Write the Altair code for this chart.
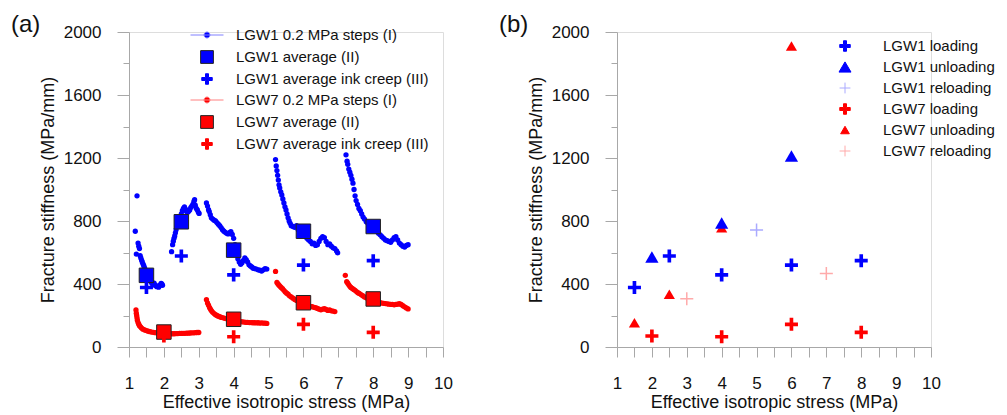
import altair as alt
import pandas as pd

FONT = "Liberation Sans"
GRAY = "#a8a8a8"
BLUE = "#0000ff"
RED = "#ff0000"
LBLUE = "#aaaaff"
LRED = "#ffaaaa"

# ---------------- panel (a) data ----------------
LGW1_STEPS_X = [1.23, 1.18, 1.26, 1.28, 1.30, 1.21, 1.32, 1.34, 1.36, 1.38, 1.40, 1.42, 1.44, 1.46, 1.48, 1.52,
                1.56, 1.60, 1.64, 1.68, 1.70, 1.72, 1.75, 1.78, 1.80, 1.82, 1.85, 1.88, 1.90, 1.92, 1.94, 1.96,
                2.22, 2.25, 2.27, 2.29, 2.31, 2.33, 2.35, 2.38, 2.41, 2.44, 2.47, 2.50, 2.53, 2.56, 2.59, 2.62,
                2.65, 2.68, 2.71, 2.74, 2.77, 2.80, 2.83, 2.86, 2.88, 2.90, 2.93, 2.96, 2.99, 3.01,
                3.22, 3.25, 3.28, 3.30, 3.33, 3.36, 3.40, 3.44, 3.48, 3.52, 3.56, 3.60, 3.64, 3.68, 3.72, 3.76,
                3.80, 3.84, 3.88, 3.92, 3.96, 4.00, 4.04, 4.08, 4.12, 4.16, 4.20, 4.24, 4.28, 4.32, 4.36, 4.40,
                4.44, 4.48, 4.52, 4.56, 4.60, 4.65, 4.70, 4.75, 4.80, 4.85, 4.90, 4.95,
                5.20, 5.22, 5.24, 5.26, 5.28, 5.30, 5.32, 5.35, 5.38, 5.41, 5.44, 5.47, 5.50, 5.53, 5.56, 5.59,
                5.62, 5.65, 5.70, 5.75, 5.80, 5.85, 5.90, 5.95, 6.00, 6.05, 6.10, 6.15, 6.20, 6.25, 6.30, 6.35,
                6.40, 6.45, 6.50, 6.55, 6.60, 6.65, 6.70, 6.75, 6.80, 6.85, 6.90, 6.95, 6.98,
                7.22, 7.25, 7.27, 7.30, 7.33, 7.36, 7.39, 7.42, 7.45, 7.48, 7.51, 7.55, 7.59, 7.63, 7.67, 7.71,
                7.75, 7.80, 7.85, 7.90, 7.95, 8.00, 8.05, 8.10, 8.15, 8.20, 8.25, 8.30, 8.35, 8.40, 8.45, 8.50,
                8.55, 8.60, 8.65, 8.70, 8.75, 8.80, 8.85, 8.90, 8.95, 9.00]
LGW1_STEPS_Y = [960, 735, 660, 640, 625, 590, 580, 565, 552, 540, 528, 518, 505, 495, 480, 455,
                440, 425, 410, 395, 400, 405, 392, 388, 383, 385, 380, 390, 395, 404, 400, 392,
                605, 650, 672, 690, 705, 725, 745, 765, 790, 810, 828, 845, 865, 880, 890, 875,
                860, 855, 862, 870, 885, 895, 905, 925, 935, 900, 880, 870, 855, 848,
                915, 895, 872, 860, 840, 820, 812, 805, 800, 790, 780, 770, 758, 745, 735, 728,
                722, 718, 726, 732, 715, 690, 650, 600, 560, 540, 525, 535, 550, 565, 555, 540,
                522, 515, 508, 500, 498, 495, 490, 488, 482, 490, 498, 495,
                1190, 1150, 1120, 1090, 1060, 1030, 1010, 985, 965, 940, 915, 890, 870, 845, 820, 800,
                785, 770, 765, 760, 770, 745, 760, 740, 730, 715, 690, 680, 670, 655, 660, 645,
                650, 670, 690, 700, 695, 670, 650, 655, 640, 630, 625, 610, 598,
                1220, 1180, 1160, 1130, 1110, 1090, 1065, 1040, 1000, 960, 930, 905, 880, 865, 845, 825,
                812, 795, 785, 775, 770, 760, 748, 735, 722, 712, 700, 690, 680, 675, 670, 665,
                680, 695, 700, 680, 660, 650, 640, 635, 645, 650]

LGW7_STEPS_X = [1.20, 1.21, 1.22, 1.23, 1.24, 1.26, 1.28, 1.30, 1.33, 1.36, 1.40, 1.45, 1.50, 1.55, 1.60, 1.65,
                1.70, 1.75, 1.80, 1.85, 1.90, 1.95, 2.00, 2.05, 2.10, 2.15, 2.20, 2.25, 2.30, 2.35, 2.40, 2.45,
                2.50, 2.55, 2.60, 2.65, 2.70, 2.75, 2.80, 2.85, 2.90, 2.95, 3.00,
                3.22, 3.25, 3.28, 3.31, 3.34, 3.37, 3.40, 3.44, 3.48, 3.52, 3.56, 3.60, 3.65, 3.70, 3.75, 3.80,
                3.85, 3.90, 3.95, 4.00, 4.05, 4.10, 4.15, 4.20, 4.25, 4.30, 4.35, 4.40, 4.45, 4.50, 4.55, 4.60,
                4.65, 4.70, 4.75, 4.80, 4.85, 4.90, 4.95,
                5.20, 5.24, 5.27, 5.30, 5.33, 5.36, 5.40, 5.44, 5.48, 5.52, 5.56, 5.60, 5.65, 5.70, 5.75, 5.80,
                5.85, 5.90, 5.95, 6.00, 6.05, 6.10, 6.15, 6.20, 6.25, 6.30, 6.35, 6.40, 6.45, 6.50, 6.55, 6.60,
                6.65, 6.70, 6.75, 6.80, 6.85, 6.90,
                7.20, 7.24, 7.27, 7.30, 7.33, 7.36, 7.40, 7.44, 7.48, 7.52, 7.56, 7.60, 7.65, 7.70, 7.75, 7.80,
                7.85, 7.90, 7.95, 8.00, 8.05, 8.10, 8.15, 8.20, 8.25, 8.30, 8.35, 8.40, 8.45, 8.50, 8.55, 8.60,
                8.65, 8.70, 8.75, 8.80, 8.85, 8.90, 8.95, 9.00]
LGW7_STEPS_Y = [235, 215, 200, 185, 170, 155, 145, 135, 128, 120, 113, 108, 104, 100, 97, 95,
                93, 91, 90, 88, 88, 87, 86, 86, 85, 85, 84, 84, 84, 85, 85, 86,
                86, 87, 87, 88, 88, 89, 90, 90, 91, 92, 92,
                300, 280, 265, 250, 238, 228, 220, 212, 205, 200, 196, 192, 188, 185, 182, 180,
                178, 176, 174, 172, 168, 165, 163, 161, 160, 158, 157, 156, 155, 155, 154, 154,
                153, 154, 152, 153, 152, 151, 150,
                480, 410, 400, 392, 385, 378, 370, 360, 350, 342, 335, 325, 318, 310, 302, 296,
                290, 285, 280, 276, 272, 268, 262, 258, 256, 252, 250, 245, 240, 236, 240, 244,
                238, 232, 235, 230, 228, 225,
                455, 415, 405, 395, 385, 378, 372, 365, 360, 352, 345, 340, 333, 326, 318, 312,
                306, 300, 296, 292, 290, 287, 284, 281, 279, 277, 276, 274, 272, 271, 270, 268,
                270, 272, 275, 270, 262, 255, 248, 242]

LGW1_AVG_X = [1.5, 2.5, 4, 6, 8]
LGW1_AVG_Y = [455, 795, 615, 735, 765]
LGW1_CREEP_X = [1.5, 2.5, 4, 6, 8]
LGW1_CREEP_Y = [378, 578, 458, 520, 548]
LGW7_AVG_X = [2, 4, 6, 8]
LGW7_AVG_Y = [95, 176, 281, 305]
LGW7_CREEP_X = [2, 4, 6, 8]
LGW7_CREEP_Y = [70, 65, 144, 93]

# ---------------- panel (b) data ----------------
LGW1_LOAD_X = [1.5, 2.5, 4, 6, 8]
LGW1_LOAD_Y = [378, 578, 458, 520, 548]
LGW1_UNLOAD_X = [2, 4, 6]
LGW1_UNLOAD_Y = [572, 787, 1213]
LGW1_RELOAD_X = [5]
LGW1_RELOAD_Y = [743]
LGW7_LOAD_X = [2, 4, 6, 8]
LGW7_LOAD_Y = [70, 65, 144, 93]
LGW7_UNLOAD_X = [1.5, 2.5, 4, 6]
LGW7_UNLOAD_Y = [154, 335, 757, 1911]
LGW7_RELOAD_X = [3, 7]
LGW7_RELOAD_Y = [307, 466]

SERIES_A = ["LGW1 0.2 MPa steps (I)", "LGW1 average (II)", "LGW1 average ink creep (III)",
            "LGW7 0.2 MPa steps (I)", "LGW7 average (II)", "LGW7 average ink creep (III)"]
SERIES_B = ["LGW1 loading", "LGW1 unloading", "LGW1 reloading",
            "LGW7 loading", "LGW7 unloading", "LGW7 reloading"]

X_TICKS = [1, 1.5, 2, 2.5, 3, 3.5, 4, 4.5, 5, 5.5, 6, 6.5, 7, 7.5, 8, 8.5, 9, 9.5, 10]
Y_TICKS = [0, 200, 400, 600, 800, 1000, 1200, 1400, 1600, 1800, 2000]

# symbol paths
CROSS_PLOT = "M-1,-0.28H-0.28V-1H0.28V-0.28H1V0.28H0.28V1H-0.28V0.28H-1Z"
THIN_CROSS = "M-1,0H1M0,-1V1"
PAD = "M-2.2,0M2.2,0"
LEG_DOTLINE = PAD + "M-2.2,0H2.2M-0.4,0A0.4,0.4 0 1,0 0.4,0A0.4,0.4 0 1,0 -0.4,0Z"
LEG_SQUARE = PAD + "M-0.85,-0.85H0.85V0.85H-0.85Z"
LEG_CROSS = PAD + "M-0.7,-0.2H-0.2V-0.7H0.2V-0.2H0.7V0.2H0.2V0.7H-0.2V0.2H-0.7Z"
LEG_CROSS_B = "M-0.7,-0.2H-0.2V-0.7H0.2V-0.2H0.7V0.2H0.2V0.7H-0.2V0.2H-0.7Z"
LEG_TRI_BIG = "M0,-0.68L0.8,0.68L-0.8,0.68Z"
LEG_TRI_SMALL = "M0,-0.5L0.58,0.5L-0.58,0.5Z"
LEG_THIN = "M-0.72,0H0.72M0,-0.72V0.72"


def df(x, y):
    return pd.DataFrame({"x": x, "y": y})


x_axis = alt.Axis(values=X_TICKS, labelExpr="datum.value % 1 === 0 ? format(datum.value, 'd') : ''",
                  tickSize=10, labelPadding=18, title="Effective isotropic stress (MPa)", titlePadding=2,
                  grid=False, domainColor=GRAY, tickColor=GRAY, labelFont=FONT, labelFontSize=17,
                  titleFont=FONT, titleFontSize=18, titleFontWeight="normal", labelColor="#111",
                  titleColor="#111", labelOverlap=False, labelFlush=False)
y_axis = alt.Axis(values=Y_TICKS, labelExpr="datum.value % 400 === 0 ? format(datum.value, 'd') : ''",
                  tickSize={"condition": {"test": "datum.value % 400 === 0", "value": 12}, "value": 6},
                  labelPadding=16, title="Fracture stiffness (MPa/mm)", titlePadding=6,
                  grid=False, domainColor=GRAY, tickColor=GRAY, labelFont=FONT, labelFontSize=17,
                  titleFont=FONT, titleFontSize=18, titleFontWeight="normal", labelColor="#111",
                  titleColor="#111", labelOverlap=False, labelFlush=False)

X = alt.X("x:Q", scale=alt.Scale(domain=[1, 10], nice=False, zero=False), axis=x_axis)
Y = alt.Y("y:Q", scale=alt.Scale(domain=[0, 2000], nice=False), axis=y_axis)


def pts(x, y, **mark):
    base = dict(filled=True, opacity=1)
    base.update(mark)
    return alt.Chart(df(x, y)).mark_point(**base).encode(x=X, y=Y)


def legend_layer(names, shapes, fills, strokes, lx, ly, label_offset, row_pad):
    leg = alt.Legend(title=None, orient="none", legendX=lx, legendY=ly, labelFont=FONT,
                     labelFontSize=15, labelColor="#111", labelLimit=400, labelOffset=label_offset,
                     rowPadding=row_pad, symbolSize=225, symbolOpacity=1, symbolStrokeWidth=1,
                     padding=0)
    d = pd.DataFrame({"series": names})
    return alt.Chart(d).mark_point(filled=True, opacity=0).encode(
        fill=alt.Fill("series:N", scale=alt.Scale(domain=names, range=fills), legend=leg),
        stroke=alt.Stroke("series:N", scale=alt.Scale(domain=names, range=strokes), legend=leg),
        shape=alt.Shape("series:N", scale=alt.Scale(domain=names, range=shapes), legend=leg),
    )


def title(t):
    return alt.TitleParams(text=t, anchor="start", frame="group", dx=-118, fontSize=24,
                           fontWeight="normal", font=FONT, color="#111", offset=-14)


leg_a = legend_layer(SERIES_A, [LEG_DOTLINE, LEG_SQUARE, LEG_CROSS] * 2,
                     [BLUE, BLUE, BLUE, RED, RED, RED],
                     ["#8080ff", "#222222", BLUE, "#ff8080", "#222222", RED],
                     70, -5, 21, 5)

panel_a = alt.layer(
    leg_a,
    pts(LGW1_STEPS_X, LGW1_STEPS_Y, shape="circle", size=28, color=BLUE),
    pts(LGW7_STEPS_X, LGW7_STEPS_Y, shape="circle", size=28, color=RED),
    pts(LGW1_AVG_X, LGW1_AVG_Y, shape="square", size=210, color=BLUE, stroke="#222222", strokeWidth=1),
    pts(LGW7_AVG_X, LGW7_AVG_Y, shape="square", size=210, color=RED, stroke="#222222", strokeWidth=1),
    pts(LGW1_CREEP_X, LGW1_CREEP_Y, shape=CROSS_PLOT, size=170, color=BLUE),
    pts(LGW7_CREEP_X, LGW7_CREEP_Y, shape=CROSS_PLOT, size=170, color=RED),
).properties(width=314, height=315, title=title("(a)"))

leg_b = legend_layer(SERIES_B, [LEG_CROSS_B, LEG_TRI_BIG, LEG_THIN, LEG_CROSS_B, LEG_TRI_SMALL, LEG_THIN],
                     [BLUE, BLUE, LBLUE, RED, RED, LRED],
                     [BLUE, BLUE, LBLUE, RED, RED, LRED],
                     220, 6, 30, 5)

panel_b = alt.layer(
    leg_b,
    pts(LGW7_UNLOAD_X, LGW7_UNLOAD_Y, shape="triangle-up", size=125, color=RED),
    pts(LGW1_UNLOAD_X, LGW1_UNLOAD_Y, shape="triangle-up", size=175, color=BLUE),
    pts(LGW1_LOAD_X, LGW1_LOAD_Y, shape=CROSS_PLOT, size=170, color=BLUE),
    pts(LGW7_LOAD_X, LGW7_LOAD_Y, shape=CROSS_PLOT, size=170, color=RED),
    pts(LGW1_RELOAD_X, LGW1_RELOAD_Y, shape=THIN_CROSS, size=170, filled=False, color=LBLUE, strokeWidth=1.5),
    pts(LGW7_RELOAD_X, LGW7_RELOAD_Y, shape=THIN_CROSS, size=170, filled=False, color=LRED, strokeWidth=1.5),
).properties(width=314, height=315, title=title("(b)"))

chart = alt.hconcat(panel_a, panel_b, spacing=45).resolve_scale(
    fill="independent", stroke="independent", shape="independent"
).properties(
    padding={"left": 2, "top": 4, "right": 0, "bottom": 0}
).configure_view(stroke=None).configure(background="white")

chart.save("out.html", embed_options={"renderer": "svg", "actions": False})
